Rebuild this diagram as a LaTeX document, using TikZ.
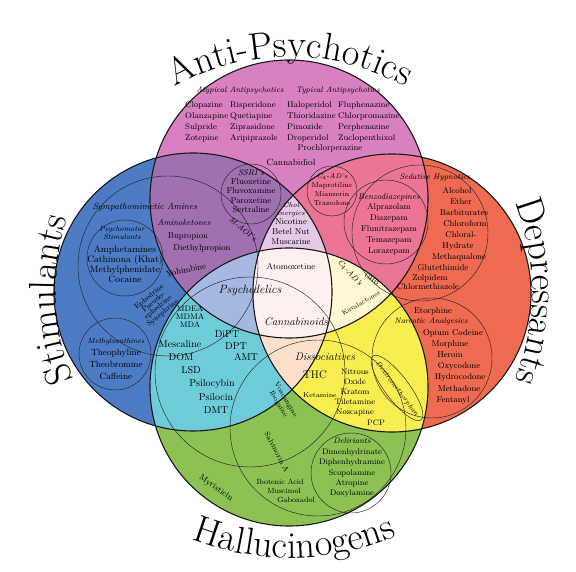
\documentclass[tikz,border=0pt]{standalone}
\usetikzlibrary{decorations.text}

\definecolor{apcol}{HTML}{D880C0}
\definecolor{stcol}{HTML}{4D7CC5}
\definecolor{decol}{HTML}{EE6A50}
\definecolor{hacol}{HTML}{8DC153}
\definecolor{apst}{HTML}{A070B0}
\definecolor{apde}{HTML}{EC7596}
\definecolor{stha}{HTML}{6ECBDA}
\definecolor{deha}{HTML}{F8EE50}
\definecolor{apstde}{HTML}{E5C8E6}
\definecolor{apstha}{HTML}{A6B8E2}
\definecolor{apdeha}{HTML}{FFF6D2}
\definecolor{stdeha}{HTML}{FCE0CC}
\definecolor{allfour}{HTML}{FFF0F0}

\tikzset{
  bigring/.style={draw=black!90, line width=1.1pt},
  subring/.style={draw=black!85, line width=0.45pt},
  drug/.style={font=\fontsize{8.5}{10}\selectfont, inner sep=0pt, align=center},
  apdrug/.style={font=\fontsize{8.3}{11}\selectfont, inner sep=0pt, align=left, anchor=west},
  smalldrug/.style={font=\fontsize{7}{8.5}\selectfont, inner sep=0pt, align=center},
  bigdrug/.style={font=\fontsize{10}{12}\selectfont, inner sep=0pt},
  group/.style={font=\fontsize{8}{9}\selectfont\itshape, inner sep=0pt, align=center},
  rimtext/.style={decorate, decoration={text along path, text align=center,
      text={|\fontsize{38}{38}\selectfont|#1}}}
}

\begin{document}
\begin{tikzpicture}[x=1pt,y=1pt]
  \useasboundingbox (0,0) rectangle (576,571);
  \def\bigr{139}
  \coordinate (cc) at (290,280);
  \coordinate (ap) at (289,372);
  \coordinate (st) at (193,279);
  \coordinate (de) at (392,278);
  \coordinate (ha) at (289,184);

  % single sets
  \fill[apcol] (ap) circle[radius=\bigr];
  \fill[stcol] (st) circle[radius=\bigr];
  \fill[decol] (de) circle[radius=\bigr];
  \fill[hacol] (ha) circle[radius=\bigr];
  % pairs
  \begin{scope}
    \clip (ap) circle[radius=\bigr];
    \fill[apst] (st) circle[radius=\bigr];
    \fill[apde] (de) circle[radius=\bigr];
  \end{scope}
  \begin{scope}
    \clip (ha) circle[radius=\bigr];
    \fill[stha] (st) circle[radius=\bigr];
    \fill[deha] (de) circle[radius=\bigr];
  \end{scope}
  % triples
  \begin{scope}
    \clip (ap) circle[radius=\bigr];
    \clip (st) circle[radius=\bigr];
    \fill[apstde] (de) circle[radius=\bigr];
    \fill[apstha] (ha) circle[radius=\bigr];
  \end{scope}
  \begin{scope}
    \clip (ap) circle[radius=\bigr];
    \clip (de) circle[radius=\bigr];
    \fill[apdeha] (ha) circle[radius=\bigr];
  \end{scope}
  \begin{scope}
    \clip (st) circle[radius=\bigr];
    \clip (de) circle[radius=\bigr];
    \fill[stdeha] (ha) circle[radius=\bigr];
  \end{scope}
  % all four
  \begin{scope}
    \clip (ap) circle[radius=\bigr];
    \clip (st) circle[radius=\bigr];
    \clip (de) circle[radius=\bigr];
    \fill[allfour] (ha) circle[radius=\bigr];
  \end{scope}

  % sub groups
  \draw[subring] (168,305) circle[radius=90];   % sympathomimetic
  \draw[subring] (125,313) circle[radius=38];   % psychomotor
  \draw[subring] (115,217) circle[radius=36];   % methylxanthines
  \draw[subring] (251,377) circle[radius=30];   % ssri
  \draw[subring] (332,380) circle[radius=25];   % c4-ad
  \draw[subring] (386,349) circle[radius=42];   % benzo
  \draw[subring] (420,338) circle[radius=68];   % sedative
  \draw[subring] (432,213) circle[radius=60];   % narcotic
  \draw[subring] (250,199) circle[radius=95];   % psychedelics
  \draw[subring] (318,143) circle[radius=88];   % dissociatives
  \draw[subring] (351,98) circle[radius=40];    % deliriants
  \draw[subring] (397,183) ellipse[x radius=40, y radius=12, rotate=-53];

  % main rings
  \foreach \c in {ap,st,de,ha}
    \draw[bigring] (\c) circle[radius=\bigr];

  % titles
  \path[rimtext={Anti-Psychotics}] (cc) ++(150:234) arc[start angle=150, end angle=30, radius=234];
  \path[rimtext={Stimulants}] (cc) ++(242:234) arc[start angle=242, end angle=122, radius=234];
  \path[rimtext={Depressants}] (cc) ++(60:242) arc[start angle=60, end angle=-60, radius=242];
  \path[rimtext={Hallucinogens}] (cc) ++(211:267) arc[start angle=211, end angle=331, radius=267];

  % anti-psychotics
  \node[group] (atyp) at (240,481) {Atypical Antipsychotics};
  \node[group] (typ) at (338,481) {Typical Antipsychotics};
  \node[apdrug] (aty1) at (185,449.5) {Clopazine\\Olanzapine\\Sulpride\\Zotepine};
  \node[apdrug] (aty2) at (230,449.5) {Risperidone\\Quetiapine\\Ziprasidone\\Aripiprazole};
  \node[apdrug] (typ1) at (287,449.5) {Haloperidol\\Thioridazine\\Pimozide\\Droperidol};
  \node[apdrug] (typ2) at (338,449.5) {Fluphenazine\\Chlorpromazine\\Perphenazine\\Zuclopenthixol};
  \node[drug] (prochlor) at (330,423) {Prochlorperazine};
  \node[drug, font=\fontsize{9}{10}\selectfont] (cbd) at (291,409) {Cannabidiol};

  \node[drug, font=\fontsize{8.5}{9.3}\selectfont] (ssri) at (251,380)
    {\textit{SSRI's}\\Fluoxetine\\Fluvoxamine\\Paroxetine\\Sertraline};
  \node[group, rotate=-40] (maoi) at (243,342) {M-AOI's};
  \node[group, font=\fontsize{7}{8}\selectfont\itshape] (cholin) at (291,361) {Chol\\inergics};
  \node[drug] (nicotine) at (291,339) {Nicotine\\Betel Nut\\Muscarine};
  \node[smalldrug, font=\fontsize{7}{9}\selectfont] (cad) at (332,381)
    {\textit{C$_4$-AD's}\\Maprotiline\\Mianserin\\Trazodone};

  % depressants
  \node[drug, font=\fontsize{8.5}{10.8}\selectfont] (benzo) at (389,347)
    {\textit{Benzodiazepines}\\Alprazolam\\Diazepam\\Flunitrazepam\\Temazepam\\Lorazepam};
  \node[group] (sedhyp) at (435,393) {Sedative Hypnotics};
  \foreach \px/\py/\drugname [count=\k] in {457/380/Alcohol, 461/369/Ether,
      464/358/Barbiturates, 465/347/Chloroform, 461/336/Chloral-, 458/325/Hydrate,
      459/314/Methaqualone, 443/303/Glutethimide, 430/293/Zolpidem, 428/284/Chlormethiazole}
    \node[drug] (sed\k) at (\px,\py) {\drugname};
  \node[group] (narc) at (431,250) {Narcotic Analgesics};
  \foreach \px/\py/\drugname [count=\k] in {433/260/Etorphine, 453/238/Opium Codeine,
      450/227/Morphine, 450/216/Heroin, 459/205/Oxycodone, 460/194/Hydrocodone,
      459/182/Methadone, 453/171/Fentanyl}
    \node[drug] (narc\k) at (\px,\py) {\drugname};

  % stimulants
  \node[group, font=\fontsize{9}{10}\selectfont\itshape] (sympath) at (145,364) {Sympathomimetic Amines};
  \node[group, font=\fontsize{7.5}{8}\selectfont\itshape] (psymot) at (122,338) {Psychomotor\\Stimulants};
  \node[drug, font=\fontsize{9.3}{10}\selectfont] (amph) at (125,307)
    {Amphetamines\\Cathinona (Khat)\\Methylphenidate\\Cocaine};
  \node[group, font=\fontsize{8.5}{9}\selectfont\itshape] (aminok) at (184,348) {Aminoketones};
  \node[drug] (bupro) at (188,335) {Bupropion};
  \node[drug] (diethyl) at (202,323) {Diethylpropion};
  \node[drug, rotate=12] (yohim) at (186,301) {Yohimbine};
  \node[smalldrug, font=\fontsize{7.5}{7}\selectfont, rotate=40] (ephed) at (156,266)
    {Ephedrine\\Pseudo-\\ephedrine\\Synephrine};
  \node[drug, font=\fontsize{9}{12}\selectfont] (xanth) at (116,212)
    {\textit{\fontsize{7.5}{12}\selectfont Methylxanthines}\\Theophyline\\Theobromine\\Caffeine};

  % centre
  \node[group, font=\fontsize{12}{12}\selectfont\itshape] (psyched) at (250,280) {Psychedelics};
  \node[drug, font=\fontsize{8}{8}\selectfont] (mdma) at (190,254) {MDEA\\MDMA\\MDA};
  \node[drug] (atomox) at (291,304) {Atomoxetine};
  \node[group, font=\fontsize{11}{11}\selectfont\itshape] (cannab) at (296,249) {Cannabinoids};
  \node[group, rotate=-48] (cad2) at (350,298) {C$_4$-AD's};
  \node[smalldrug, font=\fontsize{6.5}{7}\selectfont, rotate=-35] (ghb) at (372,292) {GHB};
  \node[smalldrug, font=\fontsize{6.5}{7}\selectfont, rotate=30] (kava) at (361,268) {Kavalactones};

  % hallucinogens
  \foreach \px/\py/\drugname [count=\k] in {180/227/Mescaline, 181/214/DOM, 191/201/LSD,
      212/187/Psilocybin, 216/174/Psilocin, 216/161/DMT, 227/237/DiPT, 236/225/DPT, 246/214/AMT}
    \node[bigdrug] (hal\k) at (\px,\py) {\drugname};
  \node[group, font=\fontsize{11}{11}\selectfont\itshape] (dissoc) at (325,214) {Dissociatives};
  \node[bigdrug, font=\fontsize{11}{11}\selectfont] (thc) at (315,196) {THC};
  \node[smalldrug] (ketamine) at (320,176) {Ketamine};
  \node[drug, font=\fontsize{8}{10}\selectfont] (nitrous) at (355,178)
    {Nitrous\\Oxide\\Kratom\\Tiletamine\\Noscapine};
  \node[drug, font=\fontsize{8}{10}\selectfont] (pcp) at (376,148) {PCP};
  \node[group, font=\fontsize{7}{8}\selectfont\itshape, rotate=-53] (dxm) at (397,182) {Dextromethorphan};
  \node[smalldrug, rotate=-60] (iboga) at (282,169) {Voacangine\\Ibogaine};
  \node[smalldrug, font=\fontsize{7.5}{8}\selectfont, rotate=-62] (salvia) at (277,119) {Salvinorin A};
  \node[drug, rotate=-35] (myrist) at (216,83) {Myristicin};
  \node[smalldrug, font=\fontsize{7.5}{8}\selectfont] (ibot) at (280,89) {Ibotenic Acid};
  \node[smalldrug, font=\fontsize{7.5}{8}\selectfont] (musc) at (284,80) {Muscimol};
  \node[smalldrug, font=\fontsize{7.5}{8}\selectfont] (gabox) at (296,71) {Gaboxadol};
  \node[drug, font=\fontsize{8}{10.4}\selectfont] (delir) at (352,103)
    {\textit{Deliriants}\\Dimenhydrinate\\Diphenhydramine\\Scopolamine\\Atropine\\Doxylamine};
\end{tikzpicture}
\end{document}
